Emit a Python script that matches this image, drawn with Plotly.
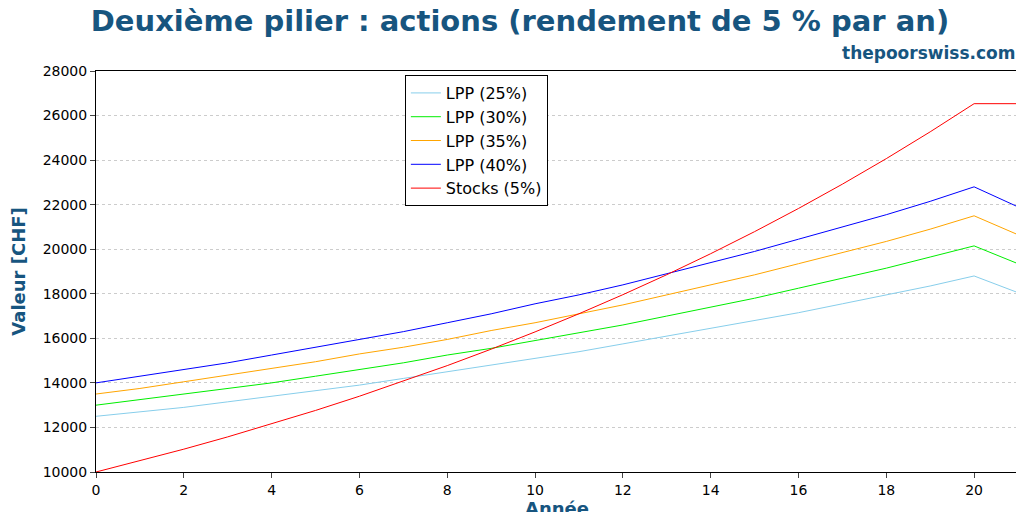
import plotly.graph_objects as go

years = list(range(0, 22))
lpp25 = [12500, 12700, 12900, 13150, 13400, 13650, 13900, 14200, 14500, 14800, 15100,
         15400, 15750, 16100, 16450, 16800, 17150, 17550, 17950, 18350, 18800, 18050]
lpp30 = [13000, 13250, 13500, 13750, 14000, 14300, 14600, 14900, 15250, 15550, 15900,
         16250, 16600, 17000, 17400, 17800, 18250, 18700, 19150, 19650, 20150, 19350]
lpp35 = [13500, 13750, 14050, 14350, 14650, 14950, 15300, 15600, 15950, 16350, 16700,
         17100, 17500, 17950, 18400, 18850, 19350, 19850, 20350, 20900, 21500, 20650]
lpp40 = [14000, 14300, 14600, 14900, 15250, 15600, 15950, 16300, 16700, 17100, 17550,
         17950, 18400, 18900, 19400, 19900, 20450, 21000, 21550, 22150, 22800, 21900]
stocks = [10000, 10500, 11025, 11576, 12155, 12763, 13401, 14071, 14775, 15513, 16289,
          17103, 17959, 18856, 19799, 20789, 21829, 22920, 24066, 25270, 26533, 26533]

series = [
    ("LPP (25%)", lpp25, "skyblue"),
    ("LPP (30%)", lpp30, "#00ee00"),
    ("LPP (35%)", lpp35, "orange"),
    ("LPP (40%)", lpp40, "blue"),
    ("Stocks (5%)", stocks, "red"),
]

blue_title = "#17557f"
fig = go.Figure()
for name, vals, col in series:
    fig.add_trace(go.Scatter(x=years, y=vals, mode="lines", name=name,
                             line=dict(color=col, width=1)))

fig.update_layout(
    width=1024, height=512,
    font=dict(family="DejaVu Sans", size=14, color="black"),
    plot_bgcolor="white", paper_bgcolor="white",
    margin=dict(l=88, r=14, t=63, b=48, autoexpand=False),
    title=dict(text="<b>Deuxième pilier : actions (rendement de 5 % par an)</b>",
               x=0.5, xanchor="center", y=0.995, yanchor="top",
               font=dict(size=29, color=blue_title)),
    annotations=[dict(text="<b>thepoorswiss.com</b>", xref="paper", yref="paper",
                      x=1, y=1.015, xanchor="right", yanchor="bottom", showarrow=False,
                      font=dict(size=17, color=blue_title))],
    legend=dict(x=0.335, y=0.99, xanchor="left", yanchor="top",
                bordercolor="black", borderwidth=1, bgcolor="white",
                font=dict(size=16), tracegroupgap=0),
    xaxis=dict(title=dict(text="<b>Année</b>", font=dict(size=18, color=blue_title), standoff=4),
               range=[0, 21], dtick=2, showgrid=False, ticks="outside", automargin=False,
               showline=True, linecolor="black", mirror=True, zeroline=False),
    yaxis=dict(title=dict(text="<b>Valeur [CHF]</b>", font=dict(size=18, color=blue_title)),
               range=[10000, 28000], dtick=2000, ticks="outside", tickformat="d",
               automargin=False,
               showgrid=True, gridcolor="#cccccc", griddash="dot",
               showline=True, linecolor="black", mirror=True, zeroline=False),
)

fig.write_html("out.html")
